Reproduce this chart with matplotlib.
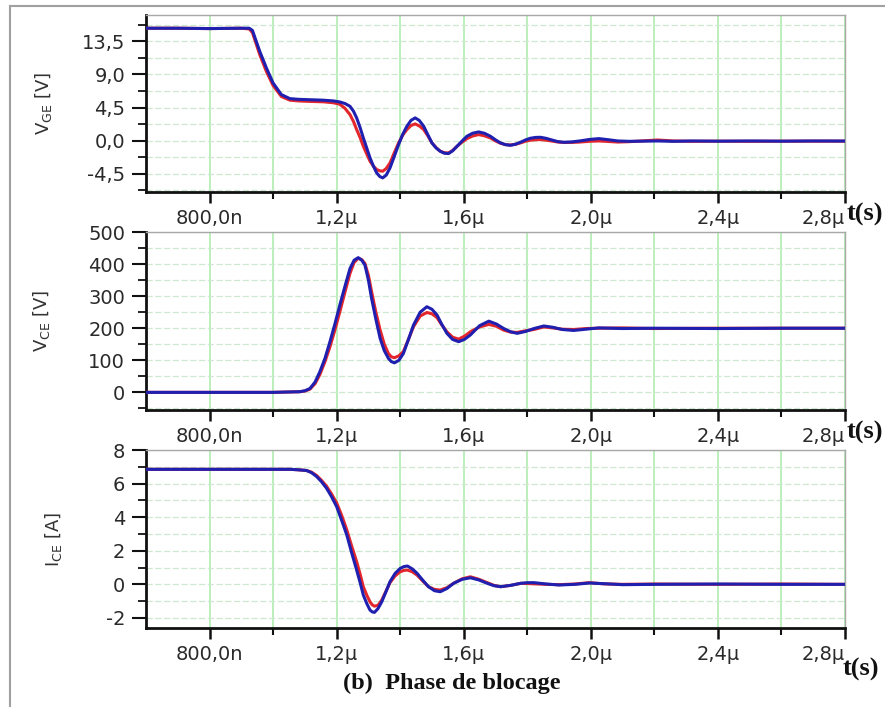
import matplotlib
matplotlib.use("Agg")
import matplotlib.pyplot as plt
from matplotlib.ticker import FixedLocator
from matplotlib.lines import Line2D

# ---------------- data (time in microseconds) ----------------
vge_t = [0.600, 0.700, 0.800, 0.900, 0.925, 0.935, 0.958, 0.979, 1.000, 1.026,
         1.053, 1.080, 1.105, 1.158, 1.190, 1.210, 1.226, 1.242, 1.253, 1.263,
         1.274, 1.284, 1.295, 1.305, 1.316, 1.326, 1.336, 1.345, 1.356, 1.368,
         1.381, 1.395, 1.408, 1.421, 1.434, 1.447, 1.460, 1.474, 1.487, 1.500,
         1.513, 1.526, 1.539, 1.552, 1.565, 1.579, 1.595, 1.610, 1.628, 1.647,
         1.665, 1.684, 1.700, 1.715, 1.731, 1.747, 1.763, 1.780, 1.795, 1.810,
         1.826, 1.842, 1.860, 1.880, 1.897, 1.915, 1.940, 1.965, 1.995, 2.025,
         2.055, 2.085, 2.120, 2.160, 2.210, 2.260, 2.320, 2.400, 2.500, 2.600,
         2.700, 2.800]
vge_blue = [15.3, 15.3, 15.25, 15.3, 15.3, 15.0, 12.15, 9.88, 7.84, 6.26,
            5.71, 5.62, 5.58, 5.50, 5.40, 5.26, 5.05, 4.67, 4.0, 3.09,
            1.75, 0.36, -1.05, -2.35, -3.5, -4.4, -4.9, -5.08, -4.7, -3.72,
            -2.2, -0.54, 0.85, 1.95, 2.75, 3.09, 2.75, 1.95, 0.8, -0.32,
            -1.0, -1.45, -1.72, -1.77, -1.4, -0.77, -0.05, 0.59, 1.0, 1.18,
            1.0, 0.59, 0.1, -0.3, -0.55, -0.64, -0.5, -0.2, 0.1, 0.32,
            0.43, 0.45, 0.3, 0.05, -0.15, -0.23, -0.18, -0.05, 0.15, 0.27,
            0.12, -0.05, -0.1, -0.08, -0.05, -0.1, -0.05, -0.08, -0.05, -0.08,
            -0.05, -0.06]
vge_red = [15.3, 15.3, 15.25, 15.3, 15.2, 14.7, 11.7, 9.4, 7.5, 6.0,
           5.5, 5.4, 5.35, 5.28, 5.15, 4.95, 4.4, 3.54, 2.6, 1.5,
           0.4, -0.77, -1.85, -2.8, -3.5, -3.94, -4.12, -4.17, -3.8, -3.04,
           -1.7, -0.32, 0.75, 1.5, 2.05, 2.27, 2.0, 1.5, 0.65, -0.32,
           -0.95, -1.45, -1.65, -1.68, -1.35, -0.77, -0.2, 0.27, 0.62, 0.82,
           0.65, 0.36, -0.05, -0.35, -0.55, -0.6, -0.5, -0.3, -0.08, 0.05,
           0.12, 0.14, 0.05, -0.08, -0.2, -0.25, -0.25, -0.2, -0.1, -0.05,
           -0.12, -0.2, -0.15, -0.05, 0.08, -0.05, -0.1, -0.08, -0.1, -0.08,
           -0.08, -0.08]

vce_t = [0.600, 0.800, 1.000, 1.084, 1.100, 1.116, 1.132, 1.147, 1.163, 1.179,
         1.195, 1.210, 1.226, 1.242, 1.255, 1.268, 1.279, 1.289, 1.300, 1.310,
         1.323, 1.337, 1.350, 1.363, 1.372, 1.382, 1.396, 1.410, 1.426, 1.442,
         1.463, 1.484, 1.500, 1.516, 1.531, 1.547, 1.565, 1.584, 1.602, 1.621,
         1.650, 1.679, 1.703, 1.726, 1.747, 1.768, 1.795, 1.821, 1.852, 1.880,
         1.910, 1.946, 1.985, 2.025, 2.100, 2.200, 2.400, 2.600, 2.800]
vce_blue = [0, 0, 0, 2, 5, 12, 32, 64, 105, 158,
            215, 272, 330, 386, 412, 420, 412, 397, 350, 293,
            230, 168, 130, 106, 96, 92, 100, 121, 165, 210,
            250, 267, 259, 241, 212, 184, 165, 158, 165, 179,
            208, 222, 213, 199, 189, 184, 190, 199, 207, 203,
            196, 193, 197, 201, 199, 200, 199, 200, 200]
vce_red = [0, 0, 0, 2, 4, 10, 27, 55, 95, 142,
           196, 251, 312, 371, 405, 418, 414, 402, 365, 314,
           252, 194, 150, 121, 111, 108, 114, 127, 165, 205,
           238, 249, 245, 233, 210, 189, 172, 166, 175, 189,
           204, 212, 206, 194, 188, 187, 192, 196, 204, 201,
           197, 196, 199, 200, 201, 199, 200, 200, 200]

ice_t = [0.600, 0.800, 1.000, 1.053, 1.080, 1.105, 1.121, 1.137, 1.152, 1.168,
         1.184, 1.200, 1.216, 1.232, 1.247, 1.263, 1.274, 1.284, 1.295, 1.305,
         1.312, 1.319, 1.330, 1.342, 1.355, 1.368, 1.384, 1.400, 1.412, 1.423,
         1.438, 1.453, 1.471, 1.489, 1.508, 1.526, 1.547, 1.568, 1.595, 1.621,
         1.648, 1.674, 1.695, 1.716, 1.748, 1.779, 1.800, 1.821, 1.860, 1.900,
         1.950, 1.995, 2.040, 2.100, 2.200, 2.400, 2.600, 2.800]
ice_blue = [6.85, 6.85, 6.85, 6.85, 6.82, 6.78, 6.65, 6.42, 6.12, 5.73,
            5.22, 4.63, 3.8, 2.94, 1.9, 0.85, 0.1, -0.64, -1.15, -1.53,
            -1.64, -1.67, -1.45, -1.04, -0.45, 0.16, 0.65, 0.95, 1.06, 1.09,
            0.92, 0.66, 0.25, -0.14, -0.38, -0.44, -0.25, 0.06, 0.3, 0.39,
            0.26, 0.06, -0.08, -0.14, -0.06, 0.06, 0.1, 0.1, 0.02, -0.04,
            0.0, 0.08, 0.04, -0.02, 0.0, 0.02, 0.0, 0.0]
ice_red = [6.85, 6.85, 6.85, 6.85, 6.82, 6.78, 6.68, 6.48, 6.2, 5.85,
           5.38, 4.85, 4.1, 3.24, 2.3, 1.35, 0.6, -0.14, -0.65, -1.04,
           -1.22, -1.3, -1.25, -0.94, -0.42, 0.1, 0.5, 0.75, 0.83, 0.85,
           0.75, 0.55, 0.2, -0.14, -0.3, -0.34, -0.2, 0.06, 0.33, 0.45,
           0.3, 0.1, -0.06, -0.14, -0.06, 0.06, 0.05, 0.03, 0.0, -0.02,
           0.02, 0.1, 0.03, 0.0, 0.02, 0.0, 0.02, 0.0]

x_ticks = [0.8, 1.2, 1.6, 2.0, 2.4, 2.8]
x_tick_labels = ["800,0n", "1,2µ", "1,6µ", "2,0µ", "2,4µ", "2,8µ"]
x_minor = [1.0, 1.4, 1.8, 2.2, 2.6]

vge_ticks = [-4.5, 0.0, 4.5, 9.0, 13.5]
vge_labels = ["-4,5", "0,0", "4,5", "9,0", "13,5"]
vce_ticks = [0, 100, 200, 300, 400, 500]
vce_labels = ["0", "100", "200", "300", "400", "500"]
ice_ticks = [-2, 0, 2, 4, 6, 8]
ice_labels = ["-2", "0", "2", "4", "6", "8"]

# ---------------- figure ----------------
W, H = 885, 707
fig = plt.figure(figsize=(W / 100, H / 100), dpi=100)
fig.patch.set_facecolor("white")

RED = "#e3262c"
BLUE = "#1f1fb0"
TICK_FONT = dict(family="DejaVu Sans", size=14, color="#2a2a2a")


def axes_box(top_px, bottom_px, left_px=146, right_px=845):
    return [left_px / W, 1 - bottom_px / H, (right_px - left_px) / W,
            (bottom_px - top_px) / H]


panels = [
    dict(box=(15, 192), t=vge_t, red=vge_red, blue=vge_blue,
         ylim=(-7.0, 17.1), ticks=vge_ticks, labels=vge_labels,
         minor=[-6.75, -2.25, 2.25, 6.75, 11.25, 15.75],
         ylabel=r"V$_{\rm GE}$ [V]", ylab_x=54),
    dict(box=(232, 410), t=vce_t, red=vce_red, blue=vce_blue,
         ylim=(-55, 500), ticks=vce_ticks, labels=vce_labels,
         minor=[-50, 50, 150, 250, 350, 450],
         ylabel=r"V$_{\rm CE}$ [V]", ylab_x=52),
    dict(box=(450, 628), t=ice_t, red=ice_red, blue=ice_blue,
         ylim=(-2.6, 8.0), ticks=ice_ticks, labels=ice_labels,
         minor=[-1, 1, 3, 5, 7],
         ylabel=r"I$_{\rm CE}$ [A]", ylab_x=64),
]

for p in panels:
    ax = fig.add_axes(axes_box(*p["box"]))
    ax.set_facecolor("white")
    ax.plot(p["t"], p["red"], color=RED, lw=2.2, solid_capstyle="round", zorder=3)
    ax.plot(p["t"], p["blue"], color=BLUE, lw=2.2, solid_capstyle="round", zorder=4)

    ax.set_xlim(0.6, 2.8)
    ax.set_ylim(*p["ylim"])

    ax.xaxis.set_major_locator(FixedLocator(x_ticks))
    ax.xaxis.set_minor_locator(FixedLocator(x_minor))
    xt = ax.set_xticklabels(x_tick_labels, fontdict=TICK_FONT)
    xt[-1].set_horizontalalignment("right")   # keep last label inside the frame
    ax.yaxis.set_major_locator(FixedLocator(p["ticks"]))
    ax.yaxis.set_minor_locator(FixedLocator(p["minor"]))
    ax.set_yticklabels(p["labels"], fontdict=TICK_FONT)

    ax.grid(which="both", axis="x", color="#b6eeb6", lw=1.3, zorder=0)
    ax.grid(which="both", axis="y", color="#cfe8cf", lw=0.9,
            linestyle=(0, (5, 2)), zorder=0)

    ax.tick_params(axis="y", which="major", direction="out", length=10,
                   width=1.5, pad=5, color="#111111")
    ax.tick_params(axis="y", which="minor", direction="out", length=6,
                   width=1.3, color="#111111")
    ax.tick_params(axis="x", which="major", direction="out", length=8,
                   width=1.8, pad=4, color="#111111")
    ax.tick_params(axis="x", which="minor", direction="out", length=5,
                   width=1.5, color="#111111")

    for side in ("left", "bottom"):
        ax.spines[side].set_color("#111111")
        ax.spines[side].set_linewidth(2.0)
    for side in ("top", "right"):
        ax.spines[side].set_color("#a8a8a8")
        ax.spines[side].set_linewidth(1.0)

    ax.set_ylabel(p["ylabel"], fontsize=13, color="#333333",
                  family="DejaVu Sans")
    ax.yaxis.set_label_coords((p["ylab_x"] - 146) / (845 - 146), 0.5)

# time-axis labels
SERIF_BOLD = dict(family="Liberation Serif", weight="bold", size=19,
                  color="#111111")
fig.text(847 / W, 1 - 214 / H, "t(s)", ha="left", va="center", **SERIF_BOLD)
fig.text(847 / W, 1 - 432 / H, "t(s)", ha="left", va="center", **SERIF_BOLD)
fig.text(843 / W, 1 - 669 / H, "t(s)", ha="left", va="center", **SERIF_BOLD)

fig.text(452 / W, 1 - 683 / H, "(b)  Phase de blocage", ha="center",
         va="center", family="Liberation Serif", weight="bold", size=17.5,
         color="#111111")

# outer frame (left and top edges)
fig.add_artist(Line2D([10 / W, 10 / W], [0, 1 - 6 / H], transform=fig.transFigure,
                      color="#a0a0a0", lw=1.5))
fig.add_artist(Line2D([10 / W, 1], [1 - 6 / H, 1 - 6 / H], transform=fig.transFigure,
                      color="#a0a0a0", lw=1.5))

fig.savefig("out.png", dpi=100, facecolor="white")
